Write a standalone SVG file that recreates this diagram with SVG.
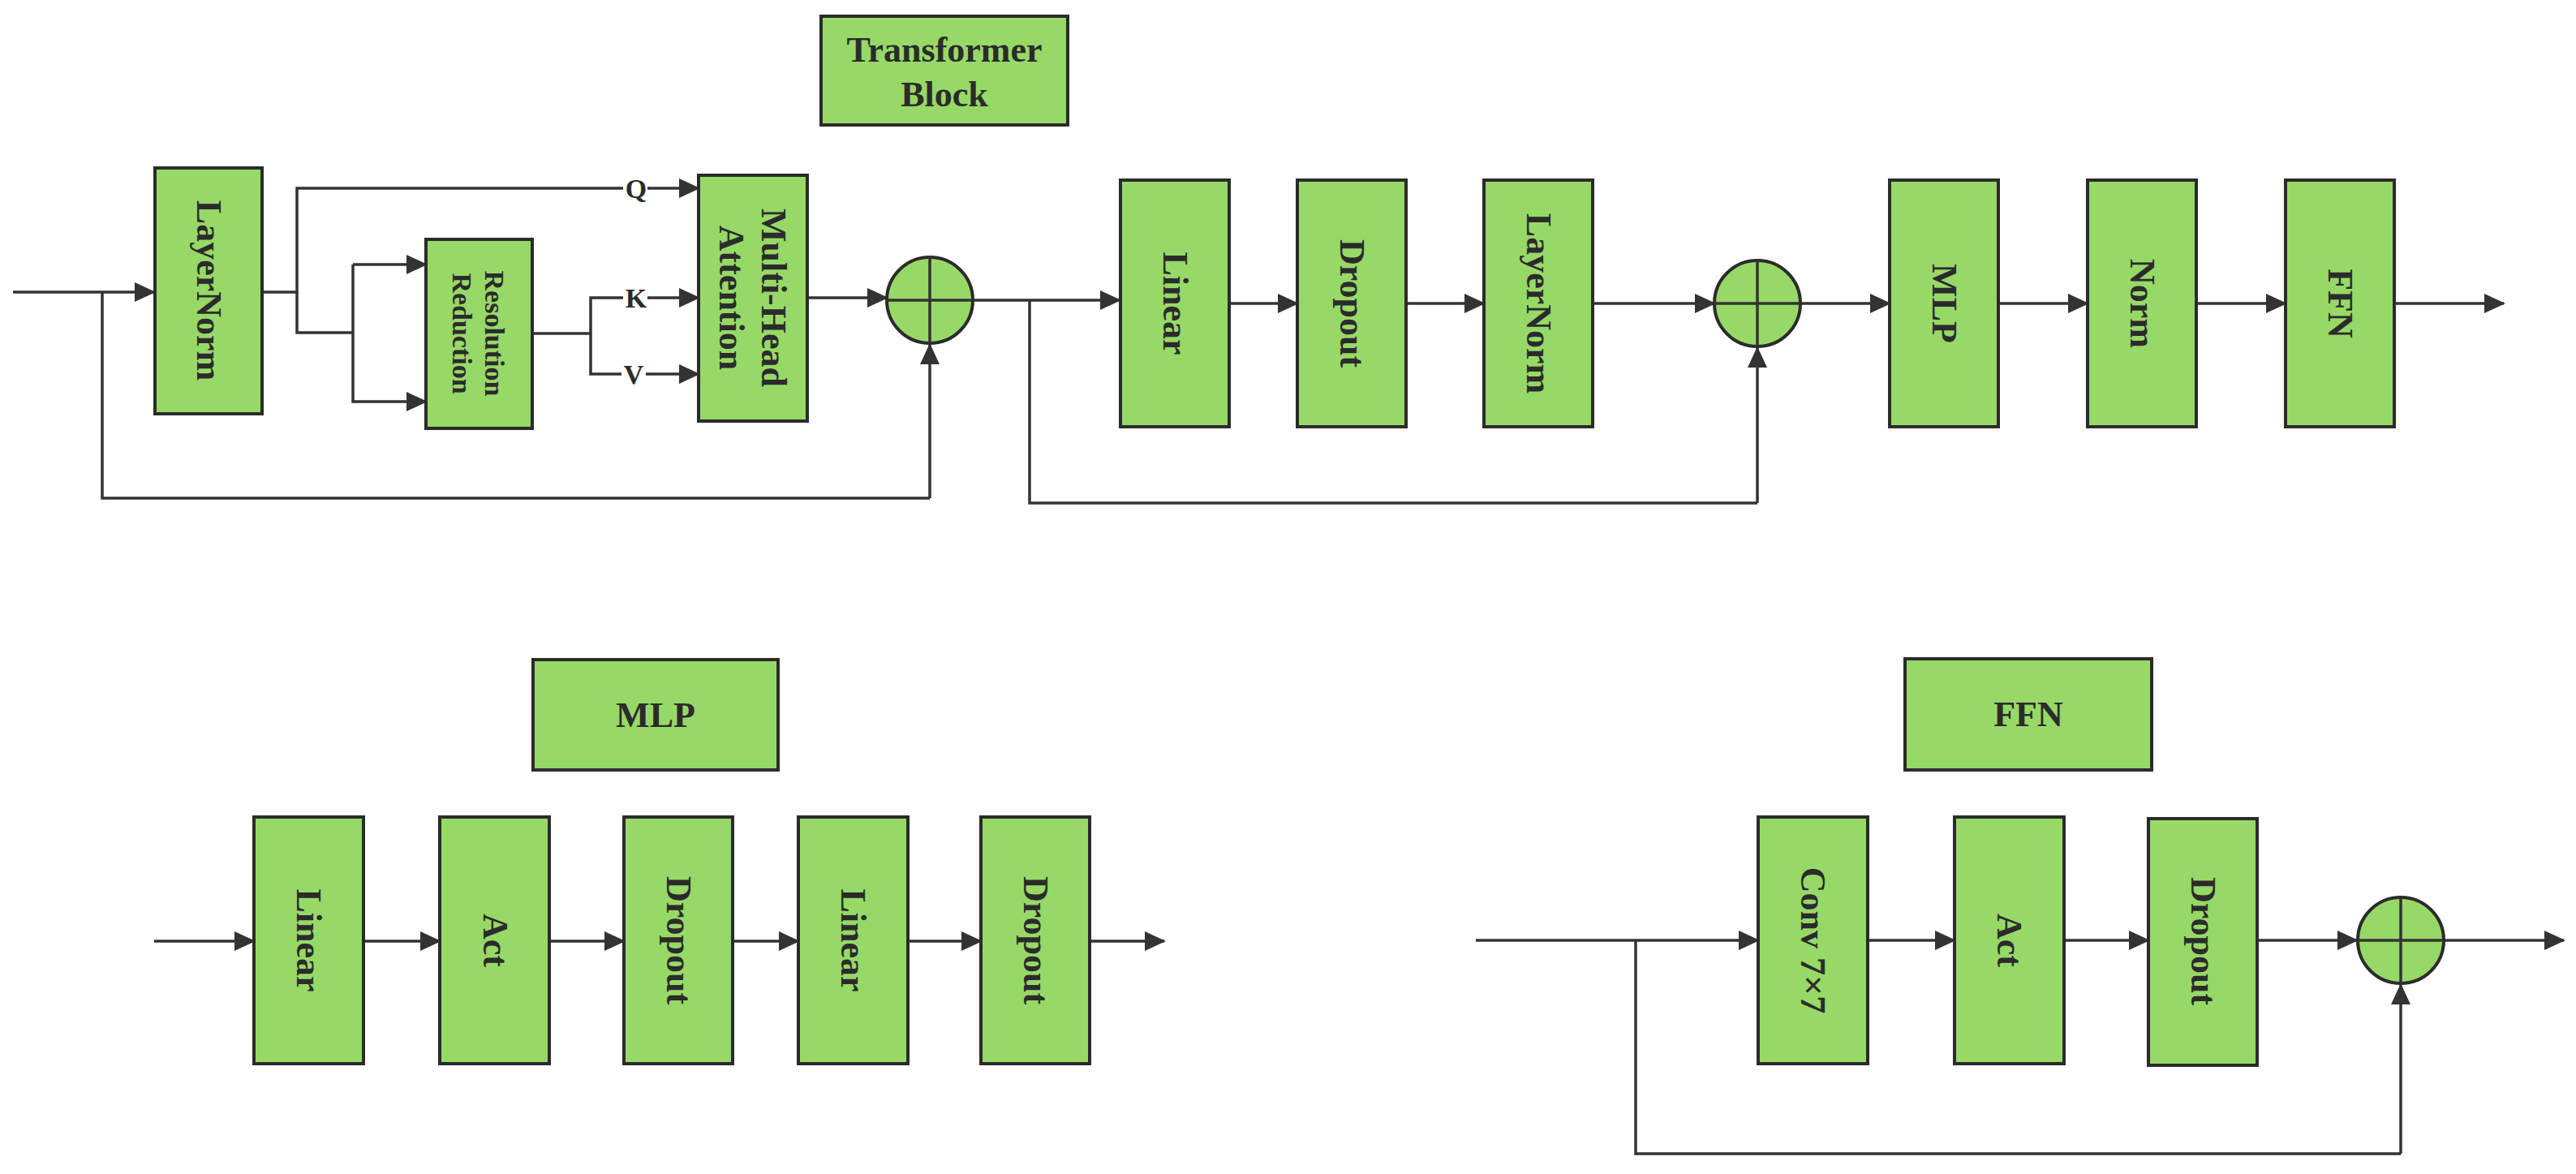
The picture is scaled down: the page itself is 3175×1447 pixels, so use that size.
<svg xmlns="http://www.w3.org/2000/svg" width="3175" height="1447" viewBox="0 0 3175 1447">
<defs>
<style>
.b{fill:#97d967;stroke:#2b2b2b;stroke-width:4}
.t{font-family:"Liberation Serif",serif;font-weight:bold;font-size:44px;fill:#2b2b2b;text-anchor:middle;dominant-baseline:central}
.l{font-family:"Liberation Serif",serif;font-weight:bold;font-size:34px;fill:#2b2b2b;text-anchor:middle;dominant-baseline:central}
.c{fill:none;stroke:#333;stroke-width:3.5}
.a{marker-end:url(#ah)}
</style>
<marker id="ah" markerUnits="userSpaceOnUse" markerWidth="26" markerHeight="24" refX="24" refY="12" orient="auto"><path d="M0,0 L26,12 L0,24 Z" fill="#333"/></marker>
</defs>
<rect width="3175" height="1447" fill="#fff"/>
<g id="connectors">
<path class="c a" d="M16,360 H190"/>
<path class="c" d="M126,360 V614 H1146"/>
<path class="c a" d="M1146,614 V425"/>
<path class="c" d="M324,360 H366 V232 H768"/>
<path class="c a" d="M798,232 H861"/>
<path class="c" d="M366,360 V410 H435"/>
<path class="c a" d="M435,326 H525"/>
<path class="c a" d="M435,410 V495 H525"/>
<path class="c" d="M435,326 V410"/>
<path class="c" d="M658,411 H728 V367 H768 M728,411 V461 H766"/>
<path class="c a" d="M798,367 H861"/>
<path class="c a" d="M796,461 H861"/>
<path class="c a" d="M995,367 H1093"/>
<path class="c a" d="M1200,370 H1380"/>
<path class="c" d="M1269,370 V620 H2166"/>
<path class="c a" d="M2166,620 V429"/>
<path class="c a" d="M1515,374 H1599"/>
<path class="c a" d="M1733,374 H1829"/>
<path class="c a" d="M1963,374 H2113"/>
<path class="c a" d="M2219,374 H2329"/>
<path class="c a" d="M2463,374 H2573"/>
<path class="c a" d="M2707,374 H2817"/>
<path class="c a" d="M2951,374 H3086"/>
<path class="c a" d="M190,1160 H313"/>
<path class="c a" d="M448,1160 H542"/>
<path class="c a" d="M677,1160 H769"/>
<path class="c a" d="M903,1160 H984"/>
<path class="c a" d="M1119,1160 H1209"/>
<path class="c a" d="M1343,1160 H1435"/>
<path class="c a" d="M1819,1159 H2167"/>
<path class="c" d="M2016,1159 V1422 H2959"/>
<path class="c a" d="M2959,1422 V1214"/>
<path class="c a" d="M2302,1159 H2409"/>
<path class="c a" d="M2544,1159 H2648"/>
<path class="c a" d="M2782,1159 H2905"/>
<path class="c a" d="M3012,1159 H3160"/>
<text class="l" x="784" y="232">Q</text>
<text class="l" x="784" y="367">K</text>
<text class="l" x="781" y="461">V</text>
</g>
<g id="title-transformer"><rect class="b" x="1012" y="20" width="304" height="134"/><text class="t" x="1164" y="87"><tspan x="1164" dy="-0.6em">Transformer</tspan><tspan x="1164" dy="1.25em">Block</tspan></text></g>
<g id="layernorm1"><rect class="b" x="191" y="207" width="132" height="303"/><text class="t" transform="rotate(90 257 358)" x="257" y="358">LayerNorm</text></g>
<g id="resred"><rect class="b" x="525" y="295" width="131" height="233"/><text class="l" transform="rotate(90 590 411)" x="590" y="411"><tspan x="590" dy="-0.6em">Resolution</tspan><tspan x="590" dy="1.2em">Reduction</tspan></text></g>
<g id="mha"><rect class="b" x="861" y="216" width="134" height="303"/><text class="t" transform="rotate(90 928 367)" x="928" y="367"><tspan x="928" dy="-0.6em">Multi-Head</tspan><tspan x="928" dy="1.2em">Attention</tspan></text></g>
<g id="add1"><ellipse class="b" cx="1146" cy="370" rx="53" ry="53"/><path class="c" d="M1093,370 H1199 M1146,317 V423"/></g>
<g id="linear1"><rect class="b" x="1381" y="222" width="134" height="304"/><text class="t" transform="rotate(90 1448 374)" x="1448" y="374">Linear</text></g>
<g id="dropout1"><rect class="b" x="1599" y="222" width="134" height="304"/><text class="t" transform="rotate(90 1666 374)" x="1666" y="374">Dropout</text></g>
<g id="layernorm2"><rect class="b" x="1829" y="222" width="134" height="304"/><text class="t" transform="rotate(90 1896 374)" x="1896" y="374">LayerNorm</text></g>
<g id="add2"><ellipse class="b" cx="2166" cy="374" rx="53" ry="53"/><path class="c" d="M2113,374 H2219 M2166,321 V427"/></g>
<g id="mlp"><rect class="b" x="2329" y="222" width="134" height="304"/><text class="t" transform="rotate(90 2396 374)" x="2396" y="374">MLP</text></g>
<g id="norm"><rect class="b" x="2573" y="222" width="134" height="304"/><text class="t" transform="rotate(90 2640 374)" x="2640" y="374">Norm</text></g>
<g id="ffn"><rect class="b" x="2817" y="222" width="134" height="304"/><text class="t" transform="rotate(90 2884 374)" x="2884" y="374">FFN</text></g>
<g id="title-mlp"><rect class="b" x="657" y="813" width="302" height="136"/><text class="t" x="808" y="881">MLP</text></g>
<g id="m-linear1"><rect class="b" x="313" y="1007" width="135" height="304"/><text class="t" transform="rotate(90 380 1159)" x="380" y="1159">Linear</text></g>
<g id="m-act"><rect class="b" x="542" y="1007" width="135" height="304"/><text class="t" transform="rotate(90 610 1159)" x="610" y="1159">Act</text></g>
<g id="m-dropout1"><rect class="b" x="769" y="1007" width="134" height="304"/><text class="t" transform="rotate(90 836 1159)" x="836" y="1159">Dropout</text></g>
<g id="m-linear2"><rect class="b" x="984" y="1007" width="135" height="304"/><text class="t" transform="rotate(90 1051 1159)" x="1051" y="1159">Linear</text></g>
<g id="m-dropout2"><rect class="b" x="1209" y="1007" width="134" height="304"/><text class="t" transform="rotate(90 1276 1159)" x="1276" y="1159">Dropout</text></g>
<g id="title-ffn"><rect class="b" x="2348" y="812" width="304" height="137"/><text class="t" x="2500" y="880">FFN</text></g>
<g id="f-conv"><rect class="b" x="2167" y="1007" width="135" height="304"/><text class="t" transform="rotate(90 2234 1159)" x="2234" y="1159">Conv 7×7</text></g>
<g id="f-act"><rect class="b" x="2409" y="1007" width="135" height="304"/><text class="t" transform="rotate(90 2476 1159)" x="2476" y="1159">Act</text></g>
<g id="f-dropout"><rect class="b" x="2648" y="1009" width="134" height="304"/><text class="t" transform="rotate(90 2715 1160)" x="2715" y="1160">Dropout</text></g>
<g id="f-add"><ellipse class="b" cx="2959" cy="1159" rx="53" ry="53"/><path class="c" d="M2906,1159 H3012 M2959,1106 V1212"/></g>
</svg>
